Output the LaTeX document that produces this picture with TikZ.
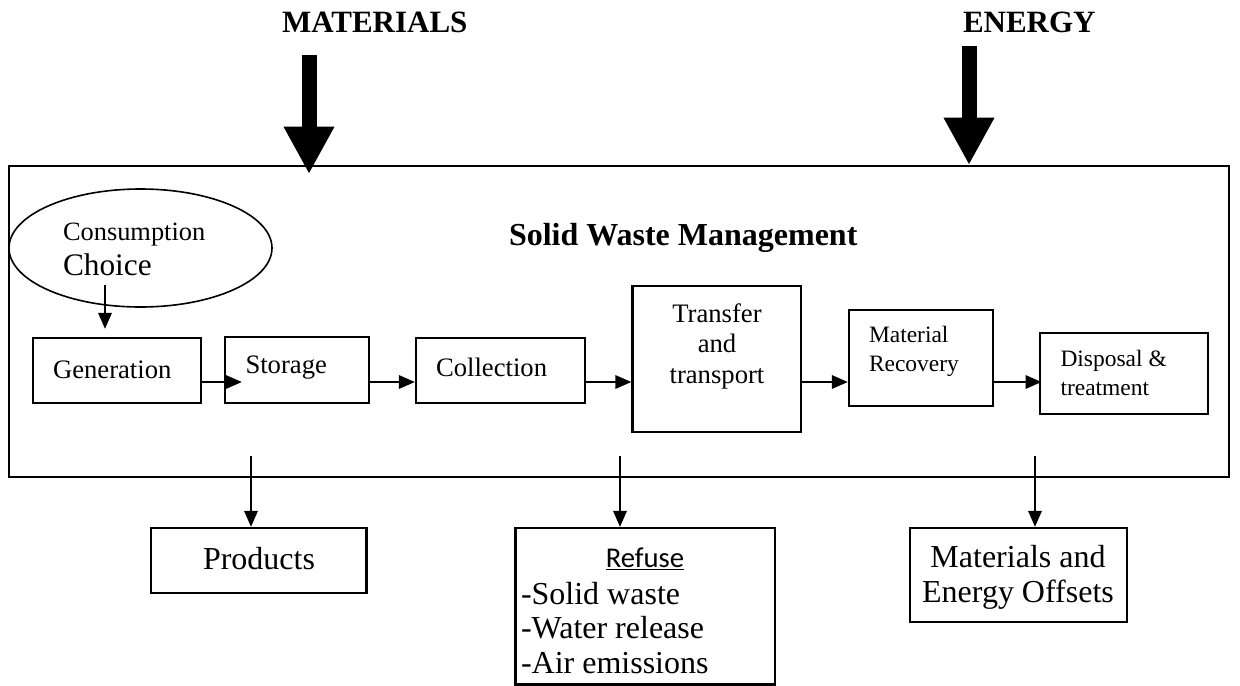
\documentclass[tikz,border=0pt]{standalone}
\usepackage{fontspec}
\setmainfont{Liberation Serif}
\newfontfamily\carlito{Carlito}
\usetikzlibrary{arrows.meta,shapes.geometric}
\tikzset{
  boxn/.style={draw, line width=1.7pt, rectangle, inner sep=0pt},
  txt/.style={inner sep=0pt, outer sep=0pt},
  arr/.style={line width=1.7pt, -{Triangle[length=12pt,width=10pt]}},
  bigarr/.style={line width=11.25pt, -{Triangle[length=35.5pt,width=35.5pt]}},
}
\begin{document}
\begin{tikzpicture}[x=0.75pt,y=-0.75pt]
\useasboundingbox (0,0) rectangle (1240,686);
% outer box
\node[boxn, line width=2pt, minimum width=915pt, minimum height=233.25pt] (outer) at (619,321.5) {};
% titles
\node[txt, anchor=base west, font=\fontsize{23.25pt}{26pt}\selectfont\bfseries] (mat) at (282,32) {MATERIALS};
\node[txt, anchor=base west, font=\fontsize{23.25pt}{26pt}\selectfont\bfseries] (ene) at (963,32) {ENERGY};
\node[txt, anchor=base west, font=\fontsize{24pt}{27pt}\selectfont\bfseries] (swm) at (509,245) {Solid Waste Management};
% big arrows
\coordinate (mA) at (309,55);
\coordinate (mB) at (309,174);
\coordinate (eA) at (969,46);
\coordinate (eB) at (969,165);
\draw[bigarr] (mA) -- (mB);
\draw[bigarr] (eA) -- (eB);
% ellipse
\node[draw, ellipse, line width=1.2pt, inner sep=0pt, minimum width=197.25pt, minimum height=88.5pt] (ell) at (140.5,248) {};
\node[txt, anchor=base west, font=\fontsize{19.8pt}{22pt}\selectfont] (cons) at (63,240) {Consumption};
\node[txt, anchor=base west, font=\fontsize{23.5pt}{26pt}\selectfont] (choi) at (63,275) {Choice};
% process boxes
\node[boxn, minimum width=126pt, minimum height=48.75pt] (gen) at (117,370.5) {};
\node[boxn, minimum width=108pt, minimum height=49.5pt] (stor) at (297,370) {};
\node[boxn, minimum width=126.75pt, minimum height=48.75pt] (coll) at (500.5,370.5) {};
\node[boxn, minimum width=126.375pt, minimum height=109.5pt] (trans) at (716.75,359) {};
\node[boxn, minimum width=108pt, minimum height=72pt] (mr) at (921,358) {};
\node[boxn, minimum width=126pt, minimum height=60.75pt] (disp) at (1124,373.5) {};
% process texts
\node[txt, anchor=base west, font=\fontsize{20pt}{23pt}\selectfont] (tgen) at (53,378) {Generation};
\node[txt, anchor=base west, font=\fontsize{20pt}{23pt}\selectfont] (tstor) at (245.5,373) {Storage};
\node[txt, anchor=base west, font=\fontsize{20pt}{23pt}\selectfont] (tcoll) at (436,376) {Collection};
\node[txt, anchor=base, font=\fontsize{20pt}{23pt}\selectfont] (ttr1) at (717,322) {Transfer};
\node[txt, anchor=base, font=\fontsize{20pt}{23pt}\selectfont] (ttr2) at (717,352) {and};
\node[txt, anchor=base, font=\fontsize{20pt}{23pt}\selectfont] (ttr3) at (717,383) {transport};
\node[txt, anchor=base west, font=\fontsize{17.6pt}{20pt}\selectfont] (tmr1) at (869,342) {Material};
\node[txt, anchor=base west, font=\fontsize{17.6pt}{20pt}\selectfont] (tmr2) at (869,371) {Recovery};
\node[txt, anchor=base west, font=\fontsize{17.6pt}{20pt}\selectfont] (tdi1) at (1060.5,366) {Disposal \&};
\node[txt, anchor=base west, font=\fontsize{17.6pt}{20pt}\selectfont] (tdi2) at (1060.5,395) {treatment};
% flow arrows
\coordinate (flow) at (0,382);
\coordinate (c1) at (105,285);
\draw[arr] (c1) -- ([yshift=6pt]gen.north -| c1);
\draw[arr] (gen.east |- flow) -- ([xshift=13.5pt]stor.west |- flow);
\draw[arr] (stor.east |- flow) -- (coll.west |- flow);
\draw[arr] (coll.east |- flow) -- (trans.west |- flow);
\draw[arr] (trans.east |- flow) -- (mr.west |- flow);
\draw[arr] (mr.east |- flow) -- ([xshift=2pt]disp.west |- flow);
% output boxes
\node[boxn, minimum width=161.6pt, minimum height=48.75pt] (prod) at (258.75,560.5) {};
\node[boxn, minimum width=194.6pt, minimum height=117.4pt] (ref) at (645.25,606.3) {};
\node[boxn, minimum width=162.75pt, minimum height=70.5pt] (meo) at (1018.5,575) {};
\node[txt, anchor=base, font=\fontsize{24pt}{27pt}\selectfont] (tprod) at (259,569) {Products};
\node[txt, anchor=base, font=\fontsize{21.5pt}{24pt}\selectfont\carlito] (tref) at (645,567) {\underline{Refuse}};
\node[txt, anchor=base west, font=\fontsize{24pt}{27pt}\selectfont] (tl1) at (521,604) {-Solid waste};
\node[txt, anchor=base west, font=\fontsize{24pt}{27pt}\selectfont] (tl2) at (521,638) {-Water release};
\node[txt, anchor=base west, font=\fontsize{24pt}{27pt}\selectfont] (tl3) at (521,673) {-Air emissions};
\node[txt, anchor=base, font=\fontsize{24pt}{27pt}\selectfont] (tmeo1) at (1018,567) {Materials and};
\node[txt, anchor=base, font=\fontsize{24pt}{27pt}\selectfont] (tmeo2) at (1018,602) {Energy Offsets};
% output arrows
\coordinate (o1) at (251,456);
\coordinate (o2) at (620,456);
\coordinate (o3) at (1035,456);
\draw[arr] (o1) -- (o1 |- prod.north);
\draw[arr] (o2) -- (o2 |- ref.north);
\draw[arr] (o3) -- (o3 |- meo.north);
\end{tikzpicture}
\end{document}
